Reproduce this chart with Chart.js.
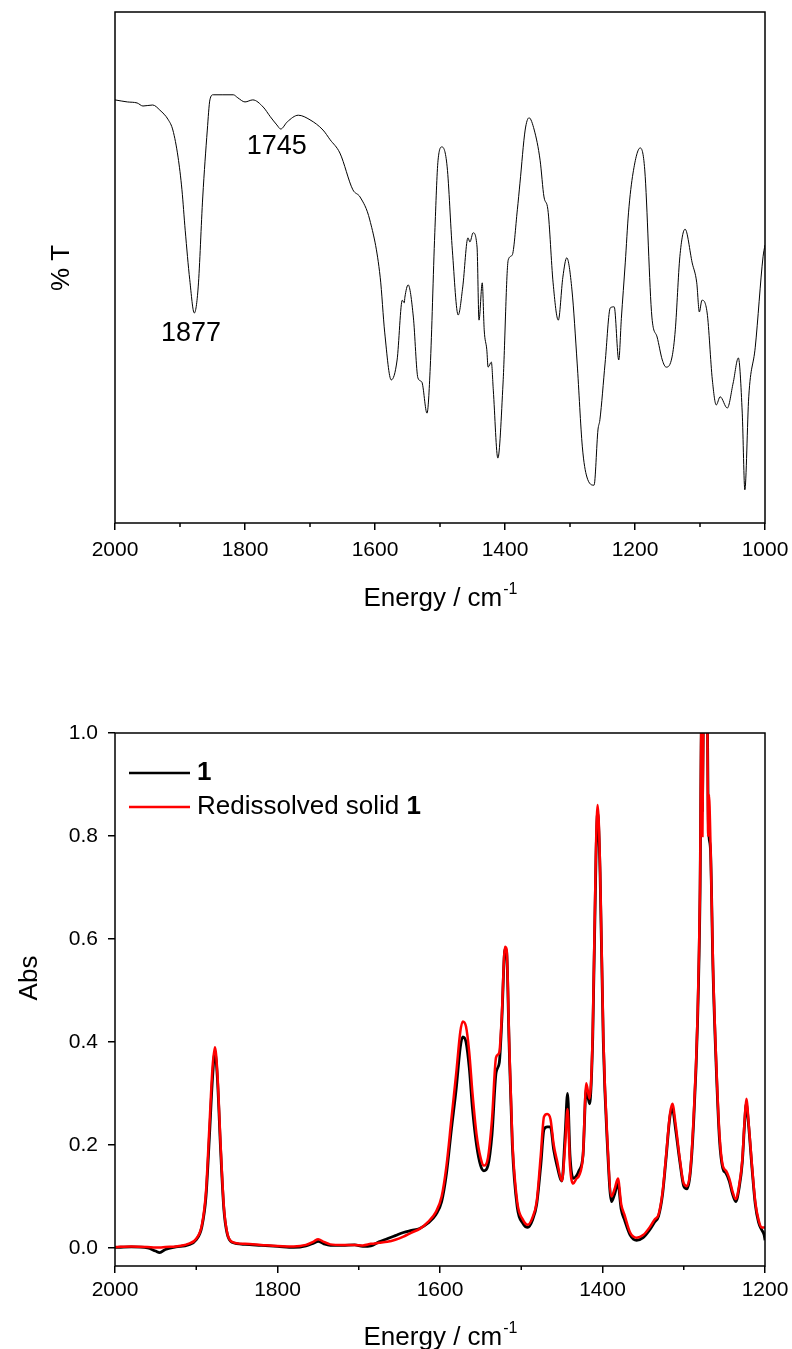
<!DOCTYPE html>
<html>
<head>
<meta charset="utf-8">
<script src="https://cdn.jsdelivr.net/npm/chart.js@4.4.1/dist/chart.umd.min.js"></script>
<style>
  html, body { margin: 0; padding: 0; background: #fff; }
  body { width: 792px; height: 1349px; position: relative; overflow: hidden; }
  canvas { position: absolute; left: 0; }
  #irTop { top: 0; }
  #irBottom { top: 650px; }
</style>
</head>
<body>
<canvas id="irTop" width="792" height="640"></canvas>
<canvas id="irBottom" width="792" height="699"></canvas>
<script>
// top panel: transmittance spectrum (relative % T)
const topWave = [2000,1981,1966,1957,1942,1931,1918,1911,1903,1897,1892,1885,1878,1872,1865,1858,1854,1849,1834,1818,
  1811,1800,1788,1772,1761,1751,1745,1735,1718,1700,1680,1669,1654,1634,1623,1608,1592,1585,1575,1566,
  1558,1555,1554,1549,1541,1534,1528,1520,1515,1508,1503,1497,1489,1481,1472,1465,1457,1454,1449,1443,
  1440,1435,1432,1428,1426,1421,1418,1411,1403,1395,1389,1381,1377,1369,1363,1355,1346,1340,1334,1326,
  1318,1311,1305,1297,1289,1281,1274,1263,1257,1254,1246,1238,1232,1225,1221,1215,1210,1203,1192,1185,
  1174,1166,1158,1152,1143,1138,1131,1123,1112,1105,1101,1097,1089,1081,1075,1069,1058,1049,1041,1035,
  1031,1025,1015,1003,1000];
const topTrans = [82.8,82.4,82.2,81.6,81.8,80.8,78.9,76.9,71.6,65.2,57.3,47.6,41.1,46.2,63.8,76.9,82.8,83.8,83.8,83.8,
  83.2,82.4,82.8,81.4,79.5,77.9,77.1,78.5,79.8,78.9,76.9,75.0,72.4,65.2,63.8,59.3,48.1,37.2,28.0,31.9,
  43.6,43.1,44.2,46.6,40.3,28.4,27.6,21.5,30.5,56.8,71.0,73.6,69.7,53.4,40.7,46.2,55.8,55.0,56.8,54.0,
  39.7,47.0,37.8,33.9,30.5,31.5,26.0,12.7,27.4,51.5,52.4,61.3,66.5,76.9,79.3,76.9,71.0,63.8,61.3,47.0,
  39.7,48.1,51.9,45.6,31.3,14.9,9.0,7.4,18.2,20.2,31.3,42.1,42.3,31.9,40.0,50.9,60.7,68.5,73.4,69.1,
  40.3,36.4,31.9,30.5,32.5,37.8,52.1,57.5,50.9,47.0,41.3,43.6,41.1,28.0,23.1,24.7,22.5,27.4,32.3,21.5,
  6.5,24.7,34.4,52.1,54.4];
const topPeakLabels = ['1877', '1745'];
const topPeakLabelX = [1883, 1751];
const topPeakLabelY = [37, 73.6];
const topRange = [1000, 2000];
const topMinor = [1900, 1700, 1500, 1300, 1100];

// bottom panel: absorbance of 1 and redissolved solid 1
const absWave = [2000,1980,1960,1950,1945,1938,1925,1910,1900,1893,1888,1884,1880,1877,1874,1870,1866,1862,1856,1840,
  1820,1800,1780,1765,1755,1750,1743,1735,1720,1705,1695,1685,1675,1665,1655,1645,1635,1625,1615,1605,
  1598,1592,1586,1580,1575,1572,1568,1564,1560,1555,1550,1546,1541,1536,1531,1527,1524,1520,1518,1515,
  1511,1505,1498,1492,1486,1481,1476,1472,1468,1464,1460,1456,1450,1446,1443,1440,1436,1432,1429,1424,
  1420,1416,1412,1408,1406,1403,1399,1394,1389,1385,1381,1377,1373,1366,1358,1350,1342,1336,1331,1326,
  1322,1317,1314,1310,1305,1300,1296,1292,1288,1283,1280,1278,1277,1275.5,1273,1271,1270,1269,1267,1264,
  1260,1256,1252,1248,1244,1240,1236,1232,1228,1225,1223,1220,1216,1212,1208,1204,1201,1200];
const absSample = [0.001,0.002,0.000,-0.006,-0.009,-0.003,0.002,0.006,0.016,0.042,0.10,0.21,0.33,0.38,0.33,0.19,0.075,0.028,0.011,0.007,
  0.005,0.003,0.001,0.004,0.010,0.013,0.008,0.005,0.005,0.006,0.003,0.004,0.012,0.018,0.024,0.030,0.034,0.038,0.048,0.065,
  0.09,0.145,0.23,0.31,0.39,0.41,0.40,0.35,0.27,0.20,0.16,0.15,0.16,0.22,0.34,0.36,0.44,0.58,0.575,0.40,
  0.20,0.08,0.048,0.040,0.055,0.085,0.16,0.23,0.235,0.235,0.19,0.16,0.13,0.22,0.30,0.18,0.135,0.14,0.15,0.18,
  0.31,0.28,0.41,0.76,0.845,0.73,0.40,0.20,0.09,0.105,0.125,0.075,0.055,0.025,0.015,0.020,0.035,0.050,0.062,0.105,
  0.17,0.255,0.27,0.23,0.17,0.12,0.115,0.145,0.24,0.44,0.68,1.03,0.85,1.10,1.15,1.05,0.85,0.80,0.77,0.54,
  0.35,0.21,0.155,0.145,0.13,0.105,0.09,0.115,0.165,0.245,0.28,0.235,0.155,0.085,0.05,0.035,0.025,0.015];
const absRedissolved = [0.002,0.003,0.002,0.001,0.001,0.002,0.003,0.008,0.018,0.045,0.11,0.23,0.35,0.39,0.34,0.20,0.08,0.03,0.012,0.008,
  0.006,0.004,0.003,0.006,0.013,0.017,0.012,0.007,0.006,0.006,0.005,0.008,0.010,0.012,0.016,0.022,0.030,0.037,0.050,0.070,
  0.10,0.16,0.25,0.34,0.42,0.44,0.43,0.38,0.30,0.22,0.175,0.16,0.175,0.25,0.37,0.38,0.45,0.585,0.58,0.41,
  0.21,0.09,0.055,0.045,0.06,0.09,0.18,0.255,0.26,0.25,0.20,0.17,0.13,0.20,0.27,0.16,0.125,0.135,0.14,0.18,
  0.32,0.29,0.42,0.78,0.86,0.74,0.41,0.21,0.10,0.115,0.135,0.085,0.065,0.030,0.020,0.025,0.040,0.055,0.065,0.11,
  0.175,0.26,0.28,0.24,0.175,0.125,0.12,0.15,0.25,0.45,0.70,1.05,0.80,1.10,1.15,1.05,0.80,0.88,0.78,0.55,
  0.36,0.22,0.16,0.15,0.135,0.11,0.095,0.12,0.17,0.25,0.29,0.24,0.16,0.09,0.055,0.04,0.04,0.04];
const absTicks = [0, 0.2, 0.4, 0.6, 0.8, 1.0];
const absRange = [-0.035, 1.0];
const bottomRange = [1200, 2000];
const bottomMinor = [1900, 1700, 1500, 1300];

const FONT = '"Liberation Sans", Arial, Helvetica, sans-serif';
Chart.defaults.font.family = FONT;
Chart.defaults.color = '#000';

// box round the plot area plus short minor ticks on the x axis
const framePlugin = {
    id: 'frame',
    afterDraw(chart, args, opts) {
        const {ctx, chartArea: a} = chart;
        const xs = chart.scales.x;
        ctx.save();
        ctx.strokeStyle = '#000';
        ctx.lineWidth = 1.5;
        ctx.strokeRect(a.left, a.top, a.right - a.left, a.bottom - a.top);
        (opts.minor || []).forEach(v => {
            const px = xs.getPixelForValue(v);
            ctx.beginPath();
            ctx.moveTo(px, a.bottom);
            ctx.lineTo(px, a.bottom + 4);
            ctx.stroke();
        });
        ctx.restore();
    }
};

function drawEnergyTitle(ctx, cx, baseline) {
    const main = 'Energy / cm';
    const sup = '-1';
    ctx.save();
    ctx.fillStyle = '#000';
    ctx.textAlign = 'left';
    ctx.textBaseline = 'alphabetic';
    ctx.font = '26px ' + FONT;
    const w1 = ctx.measureText(main).width;
    ctx.font = '16px ' + FONT;
    const w2 = ctx.measureText(sup).width;
    const x0 = cx - (w1 + w2) / 2;
    ctx.font = '26px ' + FONT;
    ctx.fillText(main, x0, baseline);
    ctx.font = '16px ' + FONT;
    ctx.fillText(sup, x0 + w1 + 1, baseline - 12);
    ctx.restore();
}

function drawYTitle(ctx, text, x, y) {
    ctx.save();
    ctx.translate(x, y);
    ctx.rotate(-Math.PI / 2);
    ctx.fillStyle = '#000';
    ctx.textAlign = 'center';
    ctx.textBaseline = 'middle';
    ctx.font = '26px ' + FONT;
    ctx.fillText(text, 0, 0);
    ctx.restore();
}

const topText = {
    id: 'topText',
    afterDraw(chart) {
        const {ctx, chartArea: a, scales} = chart;
        drawEnergyTitle(ctx, (a.left + a.right) / 2, 606);
        drawYTitle(ctx, '% T', 62, 268);
        ctx.save();
        ctx.fillStyle = '#000';
        ctx.textAlign = 'center';
        ctx.textBaseline = 'middle';
        ctx.font = '27px ' + FONT;
        topPeakLabels.forEach((t, i) => {
            ctx.fillText(t, scales.x.getPixelForValue(topPeakLabelX[i]), scales.y.getPixelForValue(topPeakLabelY[i]));
        });
        ctx.restore();
    }
};

const bottomText = {
    id: 'bottomText',
    afterDraw(chart) {
        const {ctx, chartArea: a} = chart;
        drawEnergyTitle(ctx, (a.left + a.right) / 2, 695);
        drawYTitle(ctx, 'Abs', 30, 328);
        // legend
        const rows = [
            {color: '#000', plain: '', bold: '1', y: a.top + 40},
            {color: '#ff0000', plain: 'Redissolved solid ', bold: '1', y: a.top + 74}
        ];
        ctx.save();
        ctx.lineWidth = 2.5;
        ctx.textAlign = 'left';
        ctx.textBaseline = 'middle';
        ctx.fillStyle = '#000';
        rows.forEach(r => {
            ctx.strokeStyle = r.color;
            ctx.beginPath();
            ctx.moveTo(a.left + 14, r.y);
            ctx.lineTo(a.left + 75, r.y);
            ctx.stroke();
            let x = a.left + 82;
            ctx.font = '26px ' + FONT;
            ctx.fillText(r.plain, x, r.y);
            x += ctx.measureText(r.plain).width;
            ctx.font = 'bold 26px ' + FONT;
            ctx.fillText(r.bold, x, r.y);
        });
        ctx.restore();
    }
};

function xAxis(range, height, pad) {
    return {
        type: 'linear',
        reverse: true,
        min: range[0],
        max: range[1],
        ticks: {
            stepSize: 200,
            autoSkip: false,
            maxRotation: 0,
            padding: pad,
            font: {size: 21},
            color: '#000',
            callback: v => String(v)
        },
        grid: {drawOnChartArea: false, drawTicks: true, tickLength: 7, color: '#000', lineWidth: 1.5},
        border: {display: false},
        afterFit: s => {
            s.height = height;
            s.paddingLeft = 0;
            s.paddingRight = 0;
        }
    };
}

new Chart(document.getElementById('irTop'), {
    type: 'line',
    data: {
        datasets: [{
            data: topWave.map((w, i) => ({x: w, y: topTrans[i]})),
            borderColor: '#000',
            borderWidth: 1,
            pointRadius: 0,
            cubicInterpolationMode: 'monotone',
            fill: false
        }]
    },
    options: {
        responsive: false,
        animation: false,
        layout: {padding: {top: 12, right: 27, left: 0, bottom: 0}},
        plugins: {legend: {display: false}, tooltip: {enabled: false}, frame: {minor: topMinor}},
        scales: {
            x: xAxis(topRange, 117, 8),
            y: {
                min: 0,
                max: 100,
                ticks: {display: false},
                grid: {display: false},
                border: {display: false},
                afterFit: s => { s.width = 115; }
            }
        }
    },
    plugins: [framePlugin, topText]
});

new Chart(document.getElementById('irBottom'), {
    type: 'line',
    data: {
        datasets: [{
            label: 'Redissolved solid 1',
            data: absWave.map((w, i) => ({x: w, y: absRedissolved[i]})),
            borderColor: '#ff0000',
            borderWidth: 2.5,
            pointRadius: 0,
            cubicInterpolationMode: 'monotone',
            fill: false,
            order: 0
        }, {
            label: '1',
            data: absWave.map((w, i) => ({x: w, y: absSample[i]})),
            borderColor: '#000',
            borderWidth: 2.8,
            pointRadius: 0,
            cubicInterpolationMode: 'monotone',
            fill: false,
            order: 1
        }]
    },
    options: {
        responsive: false,
        animation: false,
        layout: {padding: {top: 83, right: 27, left: 0, bottom: 0}},
        plugins: {legend: {display: false}, tooltip: {enabled: false}, frame: {minor: bottomMinor}},
        scales: {
            x: xAxis(bottomRange, 83, 5),
            y: {
                min: absRange[0],
                max: absRange[1],
                afterBuildTicks: s => { s.ticks = absTicks.map(v => ({value: v})); },
                ticks: {padding: 10, font: {size: 21}, color: '#000', callback: v => Number(v).toFixed(1)},
                grid: {drawOnChartArea: false, drawTicks: true, tickLength: 7, color: '#000', lineWidth: 1.5},
                border: {display: false},
                afterFit: s => { s.width = 115; }
            }
        }
    },
    plugins: [framePlugin, bottomText]
});
</script>
</body>
</html>
